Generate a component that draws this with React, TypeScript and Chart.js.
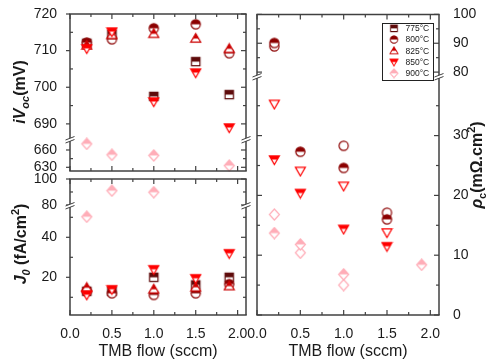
import React, { useEffect, useRef } from 'react';
import { Chart, registerables } from 'chart.js';

Chart.register(...registerables);

const FONT = '"Liberation Sans", Arial, sans-serif';
const TEXT = '#1a1a1a';
const AXIS = '#404040';

// TMB flow (sccm)
const FLOW = [0.2, 0.5, 1.0, 1.5, 1.9];
const TEMPS = ['775°C', '800°C', '825°C', '850°C', '900°C'];

// iVoc (mV)
const IVOC_775 = [712.0, 714.5, 697.5, 707.0, 698.0];
const IVOC_800 = [712.2, 713.1, 716.1, 717.2, 709.3];
const IVOC_825 = [711.4, 714.3, 714.6, 713.3, 710.5];
const IVOC_850 = [710.6, 715.2, 696.1, 704.0, 689.0];
const IVOC_900 = [670.6, 651.7, 650.6, null, 633.0];

// J0 (fA/cm2)
const J0_775 = [13.0, 13.0, 20.0, 16.2, 20.0];
const J0_800 = [13.0, 12.0, 11.2, 12.0, 16.6];
const J0_825 = [14.8, null, 14.0, 15.0, 15.6];
const J0_850 = [11.3, 14.0, 24.0, 19.5, 32.0];
const J0_900 = [50.3, 91.0, 89.8, null, null];

// rho_c (mOhm.cm2): half-filled and open symbols
const RHO_800 = [90.1, 27.3, 24.6, 16.0, null];
const RHO_850 = [26.0, 20.4, 14.4, 11.5, null];
const RHO_900 = [13.7, 11.8, 6.8, null, 8.4];
const RHO_800_OPEN = [88.9, null, 28.3, 17.1, null];
const RHO_850_OPEN = [35.3, 24.1, 21.6, 13.8, null];
const RHO_900_OPEN = [16.8, 10.4, 5.0, null, null];

// tick labels
const X_TICKS = [0, 0.5, 1.0, 1.5, 2.0];
const IVOC_TICKS = [630, 660, 690, 700, 710, 720];
const J0_TICKS = [20, 40, 80, 100];
const RHO_TICKS = [0, 10, 20, 30, 80, 90, 100];

const COLORS = ['#5e0a0a', '#8b0000', '#cc0000', '#ff0000', '#ffadb8'];
const SHAPES = ['square', 'circle', 'triUp', 'triDown', 'diamond'];

type Seg = {
  key: string;
  area: { l: number; r: number; t: number; b: number };
  min: number;
  max: number;
  ticks: number[];
  minor: number;
  side: 'left' | 'right';
  topB: boolean;
  botB: boolean;
  brk: boolean;
  showX: boolean;
  group: string;
};

const SEGMENTS: Seg[] = [
  { key: 'ivocU', area: { l: 70, r: 246, t: 14, b: 140 }, min: 685.6, max: 720, ticks: IVOC_TICKS, minor: 5, side: 'left', topB: true, botB: false, brk: false, showX: false, group: 'ivoc' },
  { key: 'ivocL', area: { l: 70, r: 246, t: 140, b: 171 }, min: 623.6, max: 677.3, ticks: IVOC_TICKS, minor: 15, side: 'left', topB: false, botB: true, brk: true, showX: false, group: 'ivoc' },
  { key: 'j0U', area: { l: 70, r: 246, t: 179, b: 206 }, min: 79.2, max: 100, ticks: J0_TICKS, minor: 10, side: 'left', topB: true, botB: false, brk: false, showX: false, group: 'j0' },
  { key: 'j0L', area: { l: 70, r: 246, t: 206, b: 315 }, min: 1.15, max: 55.65, ticks: J0_TICKS, minor: 10, side: 'left', topB: false, botB: true, brk: true, showX: true, group: 'j0' },
  { key: 'rhoU', area: { l: 257, r: 439, t: 14, b: 77 }, min: 78.3, max: 100, ticks: RHO_TICKS, minor: 5, side: 'right', topB: true, botB: false, brk: false, showX: false, group: 'rho' },
  { key: 'rhoL', area: { l: 257, r: 439, t: 77, b: 315 }, min: 0, max: 39.8, ticks: RHO_TICKS, minor: 5, side: 'right', topB: false, botB: true, brk: true, showX: true, group: 'rho' },
];

function makeMarker(shape: string, color: string, mode: 'half' | 'open'): HTMLCanvasElement {
  const s = 13;
  const m = s / 2;
  const c = document.createElement('canvas');
  c.width = s;
  c.height = s;
  const g = c.getContext('2d') as CanvasRenderingContext2D;
  const path = () => {
    g.beginPath();
    if (shape === 'square') g.rect(m - 4.2, m - 4.2, 8.4, 8.4);
    else if (shape === 'circle') g.arc(m, m, 4.6, 0, Math.PI * 2);
    else if (shape === 'triUp') { g.moveTo(m, m - 5); g.lineTo(m + 5, m + 3.6); g.lineTo(m - 5, m + 3.6); }
    else if (shape === 'triDown') { g.moveTo(m, m + 5); g.lineTo(m + 5, m - 3.6); g.lineTo(m - 5, m - 3.6); }
    else { g.moveTo(m, m - 5.5); g.lineTo(m + 5, m); g.lineTo(m, m + 5.5); g.lineTo(m - 5, m); }
    g.closePath();
  };
  path();
  g.fillStyle = '#ffffff';
  g.fill();
  if (mode === 'half') {
    g.save();
    path();
    g.clip();
    g.fillStyle = color;
    g.fillRect(0, 0, s, m);
    g.restore();
  }
  path();
  g.strokeStyle = color;
  g.lineWidth = 1.2;
  g.stroke();
  return c;
}

function drawRich(ctx: CanvasRenderingContext2D, runs: [string, number, boolean, number][], bx: number, cy: number) {
  ctx.save();
  ctx.translate(bx, cy);
  ctx.rotate(-Math.PI / 2);
  ctx.fillStyle = TEXT;
  ctx.textBaseline = 'alphabetic';
  ctx.textAlign = 'left';
  const fontOf = (r: [string, number, boolean, number]) => `${r[2] ? 'italic ' : ''}bold ${r[1]}px ${FONT}`;
  let total = 0;
  const ws = runs.map((r) => {
    ctx.font = fontOf(r);
    const w = ctx.measureText(r[0]).width;
    total += w;
    return w;
  });
  let x = -total / 2;
  runs.forEach((r, i) => {
    ctx.font = fontOf(r);
    ctx.fillText(r[0], x, r[3]);
    x += ws[i];
  });
  ctx.restore();
}

function pts(vals: (number | null)[], lo: number, hi: number) {
  return FLOW.map((x, i) => ({ x, y: vals[i] as number })).filter((p) => p.y != null && p.y >= lo && p.y <= hi);
}

function buildDatasets(seg: Seg, half: HTMLCanvasElement[], open: HTMLCanvasElement[]) {
  const ds: any[] = [];
  const add = (vals: (number | null)[], k: number, img: HTMLCanvasElement, order: number, label: string) => {
    ds.push({
      label,
      data: pts(vals, seg.min, seg.max),
      pointStyle: img,
      pointRadius: 5,
      clip: false,
      order,
    });
  };
  if (seg.group === 'ivoc') {
    [IVOC_775, IVOC_800, IVOC_825, IVOC_850, IVOC_900].forEach((v, k) => add(v, k, half[k], 10 - k, TEMPS[k]));
  } else if (seg.group === 'j0') {
    [J0_775, J0_800, J0_825, J0_850, J0_900].forEach((v, k) => add(v, k, half[k], 10 - k, TEMPS[k]));
  } else {
    add(RHO_800_OPEN, 1, open[1], 20, '800 open');
    add(RHO_850_OPEN, 3, open[3], 19, '850 open');
    add(RHO_900_OPEN, 4, open[4], 18, '900 open');
    add(RHO_800, 1, half[1], 9, TEMPS[1]);
    add(RHO_850, 3, half[3], 7, TEMPS[3]);
    add(RHO_900, 4, half[4], 6, TEMPS[4]);
  }
  return ds;
}

function framePlugin(seg: Seg, extra?: (ctx: CanvasRenderingContext2D) => void) {
  return {
    id: 'frame_' + seg.key,
    afterDraw(chart: any) {
      const ctx: CanvasRenderingContext2D = chart.ctx;
      const a = chart.chartArea;
      const xs = chart.scales.x;
      const ys = chart.scales.y;
      ctx.save();
      ctx.strokeStyle = AXIS;
      const ln = (x1: number, y1: number, x2: number, y2: number) => {
        ctx.beginPath();
        ctx.moveTo(x1, y1);
        ctx.lineTo(x2, y2);
        ctx.stroke();
      };
      ctx.lineWidth = 1.5;
      ln(a.left, a.top, a.left, a.bottom);
      ln(a.right, a.top, a.right, a.bottom);
      if (seg.topB) ln(a.left - 0.75, a.top, a.right + 0.75, a.top);
      if (seg.botB) ln(a.left - 0.75, a.bottom, a.right + 0.75, a.bottom);
      ctx.lineWidth = 1.2;
      const majors = seg.ticks.filter((v) => v >= seg.min - 1e-9 && v <= seg.max + 1e-9);
      majors.forEach((v) => {
        const y = ys.getPixelForValue(v);
        if (seg.side === 'left') ln(a.left - 4, y, a.left, y);
        else ln(a.left, y, a.left + 5, y);
        ln(a.right - 5, y, a.right, y);
      });
      const start = Math.ceil(seg.min / seg.minor) * seg.minor;
      for (let v = start; v <= seg.max + 1e-9; v += seg.minor) {
        if (majors.some((m) => Math.abs(m - v) < 1e-6)) continue;
        const y = ys.getPixelForValue(v);
        if (y < a.top + 3 || y > a.bottom - 3) continue;
        ln(a.left, y, a.left + 3, y);
        ln(a.right - 3, y, a.right, y);
      }
      const xMinor = [0.25, 0.75, 1.25, 1.75];
      if (seg.topB) {
        X_TICKS.forEach((v) => { const x = xs.getPixelForValue(v); ln(x, a.top, x, a.top + 5); });
        xMinor.forEach((v) => { const x = xs.getPixelForValue(v); ln(x, a.top, x, a.top + 3); });
      }
      if (seg.botB) {
        X_TICKS.forEach((v) => { const x = xs.getPixelForValue(v); ln(x, a.bottom - 5, x, a.bottom); });
        xMinor.forEach((v) => { const x = xs.getPixelForValue(v); ln(x, a.bottom - 3, x, a.bottom); });
      }
      if (seg.brk) {
        [a.left, a.right].forEach((x) => {
          const y = a.top;
          ctx.fillStyle = '#ffffff';
          ctx.beginPath();
          ctx.moveTo(x - 4.5, y + 3);
          ctx.lineTo(x + 4.5, y - 0.5);
          ctx.lineTo(x + 4.5, y - 3.5);
          ctx.lineTo(x - 4.5, y);
          ctx.closePath();
          ctx.fill();
          ctx.lineWidth = 1;
          ln(x - 4.5, y + 3, x + 4.5, y - 0.5);
          ln(x - 4.5, y, x + 4.5, y - 3.5);
        });
      }
      if (extra) extra(ctx);
      ctx.restore();
    },
  };
}

function makeConfig(seg: Seg, half: HTMLCanvasElement[], open: HTMLCanvasElement[], extra?: (ctx: CanvasRenderingContext2D) => void): any {
  const YW = seg.side === 'left' ? 50 : 40;
  const W = 489;
  const H = 364;
  const padding =
    seg.side === 'left'
      ? { left: seg.area.l - YW, right: W - seg.area.r, top: seg.area.t, bottom: seg.showX ? 0 : H - seg.area.b }
      : { left: seg.area.l, right: W - seg.area.r - YW, top: seg.area.t, bottom: seg.showX ? 0 : H - seg.area.b };
  const xHeight = H - seg.area.b;
  return {
    type: 'scatter',
    data: { datasets: buildDatasets(seg, half, open) },
    options: {
      animation: false,
      responsive: false,
      devicePixelRatio: 1,
      events: [],
      layout: { padding, autoPadding: false },
      plugins: { legend: { display: false }, tooltip: { enabled: false } },
      scales: {
        x: {
          type: 'linear',
          min: 0,
          max: 2.1,
          display: seg.showX,
          grid: { display: false },
          border: { display: false },
          ticks: {
            font: { family: FONT, size: 14 },
            color: TEXT,
            padding: 3,
            maxRotation: 0,
            autoSkip: false,
            includeBounds: false,
            callback: (v: any) => Number(v).toFixed(1),
          },
          afterBuildTicks: (s: any) => {
            s.ticks = X_TICKS.map((v) => ({ value: v }));
          },
          afterFit: (s: any) => {
            if (seg.showX) s.height = xHeight;
          },
          title: {
            display: seg.showX,
            text: 'TMB flow (sccm)',
            font: { family: FONT, size: 16 },
            color: TEXT,
            padding: { top: 0, bottom: 3 },
          },
        },
        y: {
          type: 'linear',
          position: seg.side,
          min: seg.min,
          max: seg.max,
          grid: { display: false },
          border: { display: false },
          ticks: {
            font: { family: FONT, size: 14 },
            color: TEXT,
            padding: seg.side === 'left' ? 5 : 6,
            autoSkip: false,
            includeBounds: false,
            callback: (v: any) => String(v),
          },
          afterBuildTicks: (s: any) => {
            s.ticks = seg.ticks.filter((v) => v >= seg.min - 1e-9 && v <= seg.max + 1e-9).map((v) => ({ value: v }));
          },
          afterFit: (s: any) => {
            s.width = YW;
          },
        },
      },
    },
    plugins: [framePlugin(seg, extra)],
  };
}

export default function App() {
  const refs = useRef<(HTMLCanvasElement | null)[]>([]);

  useEffect(() => {
    const half = SHAPES.map((sh, k) => makeMarker(sh, COLORS[k], 'half'));
    const open = SHAPES.map((sh, k) => makeMarker(sh, COLORS[k], 'open'));

    const extras: Record<string, (ctx: CanvasRenderingContext2D) => void> = {
      ivocU: (ctx) => {
        drawRich(ctx, [['iV', 16, true, 0], ['oc', 11, true, 4], ['(mV)', 16, false, 0]], 25, 92);
      },
      j0L: (ctx) => {
        drawRich(ctx, [['J', 16, true, 0], ['0', 11, true, 4], [' (fA/cm', 16, false, 0], ['2', 11, false, -7], [')', 16, false, 0]], 25.5, 244);
      },
      rhoL: (ctx) => {
        drawRich(ctx, [['ρ', 16, true, 0], ['c', 11, false, 4], ['(mΩ.cm', 16, false, 0], ['2', 11, false, -7], [')', 16, false, 0]], 482, 165);
      },
      rhoU: (ctx) => {
        ctx.fillStyle = '#ffffff';
        ctx.fillRect(382.5, 23.5, 51, 57);
        ctx.strokeStyle = '#222222';
        ctx.lineWidth = 1;
        ctx.strokeRect(382.5, 23.5, 51, 57);
        TEMPS.forEach((t, i) => {
          const y = 28.3 + i * 11.25;
          const img = half[i];
          const w = img.width * 0.8;
          ctx.drawImage(img, 394 - w / 2, y - w / 2, w, w);
          ctx.font = `8.5px ${FONT}`;
          ctx.fillStyle = TEXT;
          ctx.textBaseline = 'middle';
          ctx.textAlign = 'left';
          ctx.fillText(t, 405.5, y + 0.5);
        });
      },
    };

    const charts = SEGMENTS.map((seg, i) => new Chart(refs.current[i] as HTMLCanvasElement, makeConfig(seg, half, open, extras[seg.key])));
    return () => charts.forEach((c) => c.destroy());
  }, []);

  return (
    <div style={{ position: 'fixed', left: 0, top: 0, width: 489, height: 364, background: '#ffffff' }}>
      {SEGMENTS.map((seg, i) => (
        <canvas
          key={seg.key}
          ref={(el) => {
            refs.current[i] = el;
          }}
          width={489}
          height={364}
          style={{ position: 'absolute', left: 0, top: 0 }}
        />
      ))}
    </div>
  );
}
